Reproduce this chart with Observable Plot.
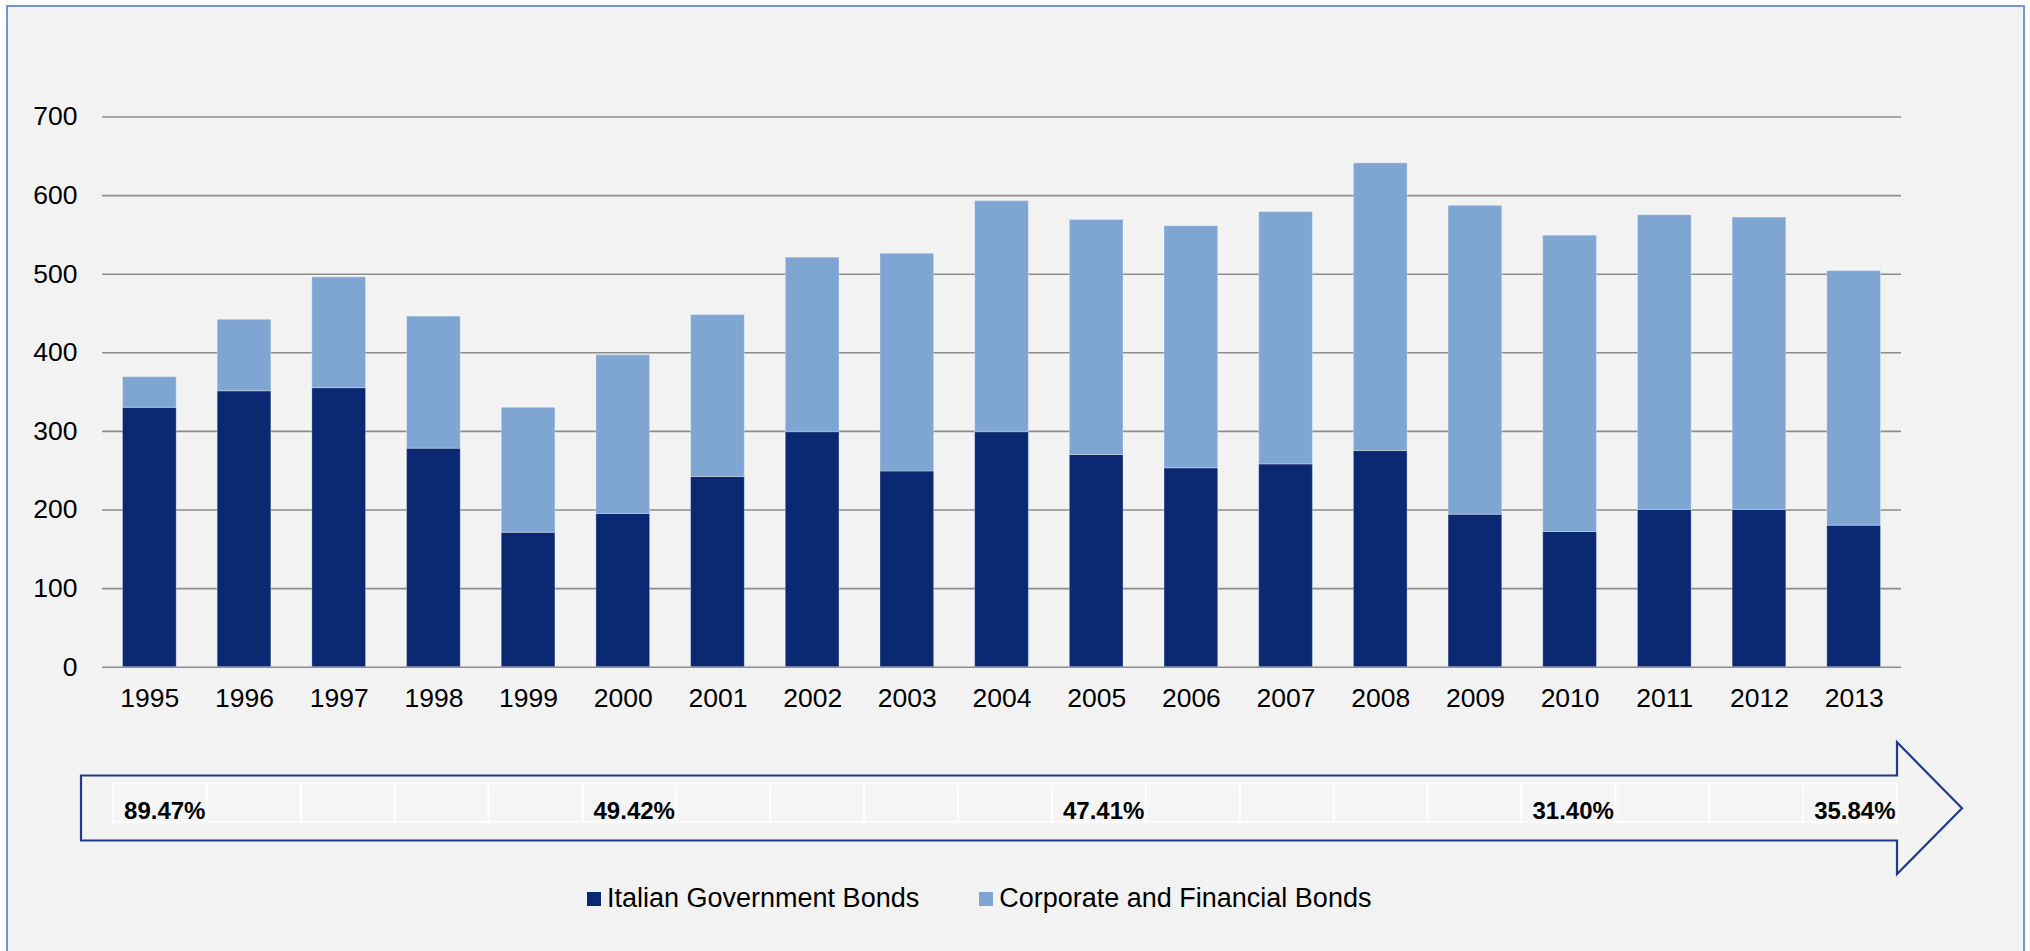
<!DOCTYPE html>
<html>
<head>
<meta charset="utf-8">
<script src="https://cdn.jsdelivr.net/npm/d3@7"></script>
<script src="https://cdn.jsdelivr.net/npm/@observablehq/plot@0.6"></script>
<style>
  html, body { margin: 0; padding: 0; background: #ffffff; width: 2030px; height: 951px; overflow: hidden; }
  #page { position: absolute; left: 0; top: 0; width: 2030px; height: 951px; font-family: "Liberation Sans", Arial, sans-serif; }
  #panel { position: absolute; left: 6px; top: 5px; width: 2015px; height: 1000px; border: 2px solid #6f9ad0;
           background: repeating-conic-gradient(#ececec 0% 25%, #f9f9f9 0% 50%) 0 0 / 2px 2px; }
  #chart { position: absolute; left: 0; top: 0; }
  #arrow { position: absolute; left: 0; top: 730px; }
  #legend { position: absolute; left: 587px; top: 883px; display: flex; align-items: center; font-size: 27px; color: #000; white-space: nowrap; }
  .item { display: flex; align-items: center; margin-right: 60px; }
  .sw { width: 14px; height: 14px; margin-right: 6px; }
</style>
</head>
<body>
<div id="page">
  <div id="panel"></div>
  <div id="chart"></div>
  <div id="arrow"></div>
  <div id="legend"></div>
</div>
<script>
// ---- data ----
const years = [1995, 1996, 1997, 1998, 1999, 2000, 2001, 2002, 2003, 2004, 2005, 2006, 2007, 2008, 2009, 2010, 2011, 2012, 2013];
const govBonds  = [330, 351, 355, 278, 171, 195, 242, 299, 249, 299, 270, 253, 258, 275, 194, 172, 200, 200, 180];
const corpBonds = [39, 91, 141, 168, 159, 202, 206, 222, 277, 294, 299, 308, 321, 366, 393, 377, 375, 372, 324];
const seriesNames = ["Italian Government Bonds", "Corporate and Financial Bonds"];
const seriesColors = ["#0b2873", "#7fa6d3"];
const yTicks = [0, 100, 200, 300, 400, 500, 600, 700];
const shareYears = [1995, 2000, 2005, 2010, 2013];
const shareLabels = ["89.47%", "49.42%", "47.41%", "31.40%", "35.84%"];

// ---- table for the library ----
const seriesValues = [govBonds, corpBonds];
const rows = [];
seriesNames.forEach((s, k) => years.forEach((yr, i) => rows.push({year: String(yr), series: s, value: seriesValues[k][i]})));
const yearKeys = years.map(String);

const font = '"Liberation Sans", Arial, sans-serif';

const chart = Plot.plot({
  width: 2030,
  height: 730,
  marginLeft: 102,
  marginRight: 129,
  marginTop: 116.5,
  marginBottom: 63.3,
  style: {background: "transparent", fontFamily: font, fontSize: "26.5px", color: "#000"},
  x: {type: "band", domain: yearKeys, paddingInner: 0.433, paddingOuter: 0.2165, align: 0.5, round: false, label: null},
  y: {domain: [0, 700], label: null},
  color: {domain: seriesNames, range: seriesColors},
  marks: [
    Plot.gridY({ticks: yTicks, stroke: "#8c8c8c", strokeOpacity: 1, strokeWidth: 1.6}),
    Plot.barY(rows, {x: "year", y: "value", fill: "series", stroke: "#ffffff", strokeOpacity: 0.3, strokeWidth: 1}),
    Plot.axisX({tickSize: 0, tickPadding: 21, fontSize: 26.5, label: null}),
    Plot.axisY({ticks: yTicks, tickSize: 0, tickPadding: 25, fontSize: 26.5, label: null})
  ]
});
document.getElementById("chart").append(chart);

// ---- arrow strip ----
function arrowShape(index, scales, values, dims) {
  const left = dims.marginLeft - 32;
  const base = dims.width - dims.marginRight;
  const tip = base + 65;
  const frameTop = dims.marginTop;
  const frameBottom = dims.height - dims.marginBottom;
  const bodyTop = frameTop - 7.8;
  const bodyBottom = frameBottom + 18.2;
  const headTop = 12.3;
  const headBottom = 144;
  const mid = (headTop + headBottom) / 2;
  const d = `M${left},${bodyTop}L${base},${bodyTop}L${base},${headTop}L${tip},${mid}L${base},${headBottom}L${base},${bodyBottom}L${left},${bodyBottom}Z`;
  return d3.create("svg:path")
    .attr("d", d)
    .attr("fill", "none")
    .attr("stroke", "#1f3b8a")
    .attr("stroke-width", 2.2)
    .attr("stroke-linejoin", "miter")
    .node();
}

const arrow = Plot.plot({
  width: 2030,
  height: 160,
  marginLeft: 113,
  marginRight: 133,
  marginTop: 53.3,
  marginBottom: 67.7,
  style: {background: "transparent", fontFamily: font, color: "#000"},
  x: {type: "band", domain: yearKeys, padding: 0, round: false, axis: null},
  marks: [
    arrowShape,
    Plot.cell(yearKeys, {x: d => d, fill: "#ffffff", fillOpacity: 0.22, stroke: "#ffffff", strokeOpacity: 0.8, strokeWidth: 2, inset: 0}),
    Plot.text(shareLabels, {x: (d, i) => String(shareYears[i]), text: d => d, textAnchor: "end", dx: 45, dy: 8,
      fontWeight: "bold", fontSize: 24, fill: "#000"})
  ]
});
document.getElementById("arrow").append(arrow);

// ---- legend ----
const legend = document.getElementById("legend");
seriesNames.forEach((s, k) => {
  const item = document.createElement("div");
  item.className = "item";
  const sw = document.createElement("div");
  sw.className = "sw";
  sw.style.background = seriesColors[k];
  const t = document.createElement("span");
  t.textContent = s;
  item.append(sw, t);
  legend.append(item);
});
</script>
</body>
</html>
